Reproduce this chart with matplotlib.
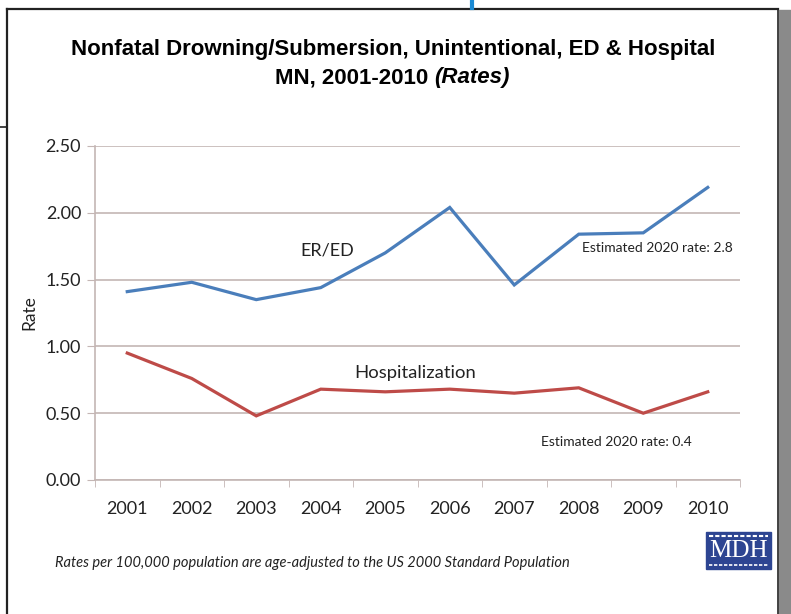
import matplotlib.pyplot as plt
from matplotlib.patches import Rectangle
from matplotlib.lines import Line2D

# data
years = ["2001", "2002", "2003", "2004", "2005", "2006", "2007", "2008", "2009", "2010"]
er_ed = [1.41, 1.48, 1.35, 1.44, 1.70, 2.04, 1.46, 1.84, 1.85, 2.19]
hosp = [0.95, 0.76, 0.48, 0.68, 0.66, 0.68, 0.65, 0.69, 0.50, 0.66]
yticks = [0.0, 0.5, 1.0, 1.5, 2.0, 2.5]

W, H = 791, 614
fig = plt.figure(figsize=(W / 100, H / 100), dpi=100)
fig.patch.set_facecolor("white")

def fx(px):
    return px / W

def fy(py):
    return 1 - py / H

# slide frame + scan leftovers
fig.add_artist(Rectangle((fx(779), 0), fx(12), fy(10), transform=fig.transFigure,
                         color="#8a8a8a", zorder=0))
fig.add_artist(Line2D([fx(7), fx(778)], [fy(9), fy(9)], transform=fig.transFigure, color="#222", lw=1.6))
fig.add_artist(Line2D([fx(7), fx(7)], [fy(9), 0], transform=fig.transFigure, color="#222", lw=1.6))
fig.add_artist(Line2D([fx(778), fx(778)], [fy(9), 0], transform=fig.transFigure, color="#222", lw=1.2))
fig.add_artist(Line2D([0, fx(7)], [fy(127), fy(127)], transform=fig.transFigure, color="#222", lw=1.2))
fig.add_artist(Line2D([fx(472), fx(472)], [1, fy(8)], transform=fig.transFigure, color="#1a8ad4", lw=3))

ax = fig.add_axes([fx(95), fy(480), fx(740) - fx(95), fy(146) - fy(480)])
x = list(range(len(years)))
grid_c = "#c4b6b4"

ax.plot(x, er_ed, color="#4a7ebb", lw=2.3, solid_joinstyle="miter")
ax.plot(x, hosp, color="#be4b48", lw=2.3, solid_joinstyle="miter")

ax.set_xlim(-0.5, len(years) - 0.5)
ax.set_ylim(0, 2.5)
ax.set_yticks(yticks)
ax.set_yticklabels([f"{v:.2f}" for v in yticks], fontsize=13, family="Lato", color="#222")
ax.set_xticks(x)
ax.set_xticklabels(years, fontsize=13, family="Lato", color="#222")
ax.set_xticks([i - 0.5 for i in range(len(years) + 1)], minor=True)
ax.tick_params(axis="x", which="major", length=0, pad=15)
ax.tick_params(axis="x", which="minor", length=5, color=grid_c)
ax.tick_params(axis="y", length=6, color=grid_c, pad=4)
ax.grid(axis="y", color=grid_c, lw=1.2)
ax.set_axisbelow(True)
for s in ["top", "right"]:
    ax.spines[s].set_visible(False)
for s in ["left", "bottom"]:
    ax.spines[s].set_color(grid_c)
    ax.spines[s].set_linewidth(1.2)
ax.set_ylabel("Rate", fontsize=12.5, family="Lato", labelpad=6, color="#222")

ax.text(3.1, 1.72, "ER/ED", fontsize=13, family="Lato", ha="center", va="center", color="#222")
ax.text(4.47, 0.80, "Hospitalization", fontsize=13.3, family="Lato", ha="center", va="center", color="#222")
ax.text(7.05, 1.74, "Estimated 2020 rate: 2.8", fontsize=10, family="Lato", ha="left", va="center", color="#222")
ax.text(6.42, 0.285, "Estimated 2020 rate: 0.4", fontsize=10, family="Lato", ha="left", va="center", color="#222")

# title
title_font = ["Liberation Sans"]
fig.text(fx(393), fy(50), "Nonfatal Drowning/Submersion, Unintentional, ED & Hospital",
         ha="center", va="center", fontsize=16, fontweight="bold", family=title_font)
fig.text(fx(428), fy(78), "MN, 2001-2010",
         ha="right", va="center", fontsize=16, fontweight="bold", family=title_font)
fig.text(fx(434), fy(78), "(Rates)",
         ha="left", va="center", fontsize=16, fontweight="bold", style="italic", family=title_font)

# footnote
fig.text(fx(55), fy(563), "Rates per 100,000 population are age-adjusted to the US 2000 Standard Population",
         ha="left", va="center", fontsize=10.5, style="italic", family="Lato", color="#222")

# MDH logo
fig.add_artist(Rectangle((fx(706), fy(569)), fx(65), fy(532) - fy(569), transform=fig.transFigure,
                         color="#2d4592", zorder=2))
fig.add_artist(Line2D([fx(709), fx(768)], [fy(536), fy(536)], transform=fig.transFigure,
                      color="white", lw=1.5, ls=(0, (2, 1)), zorder=3))
fig.add_artist(Line2D([fx(709), fx(768)], [fy(565), fy(565)], transform=fig.transFigure,
                      color="white", lw=1.2, ls=(0, (2, 1)), zorder=3))
fig.text(fx(738.5), fy(551), "MDH", ha="center", va="center", fontsize=18, color="white",
         family="Liberation Serif", zorder=4)

fig.savefig("out.png", dpi=100)
